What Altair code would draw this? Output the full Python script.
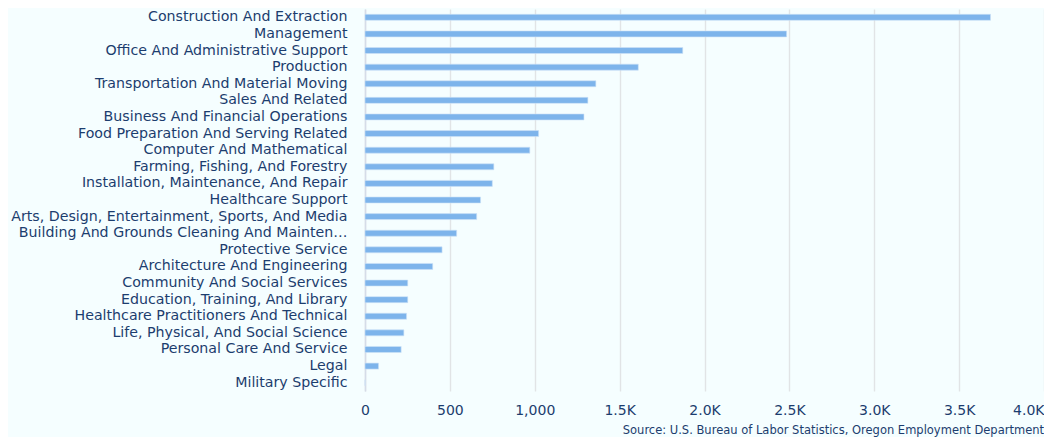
import altair as alt
import pandas as pd

categories = [
    "Construction And Extraction",
    "Management",
    "Office And Administrative Support",
    "Production",
    "Transportation And Material Moving",
    "Sales And Related",
    "Business And Financial Operations",
    "Food Preparation And Serving Related",
    "Computer And Mathematical",
    "Farming, Fishing, And Forestry",
    "Installation, Maintenance, And Repair",
    "Healthcare Support",
    "Arts, Design, Entertainment, Sports, And Media",
    "Building And Grounds Cleaning And Maintenance",
    "Protective Service",
    "Architecture And Engineering",
    "Community And Social Services",
    "Education, Training, And Library",
    "Healthcare Practitioners And Technical",
    "Life, Physical, And Social Science",
    "Personal Care And Service",
    "Legal",
    "Military Specific",
]
values = [3685, 2484, 1872, 1610, 1360, 1313, 1290, 1023, 971, 759, 750, 681,
          658, 540, 454, 399, 252, 252, 245, 229, 213, 80, 0]
x_ticks = [0, 500, 1000, 1500, 2000, 2500, 3000, 3500, 4000]
source_text = "Source: U.S. Bureau of Labor Statistics, Oregon Employment Department"

df = pd.DataFrame({"occupation": categories, "jobs": values})

TEXT = "#1C3D6E"
FONT = "DejaVu Sans"

y_label_expr = ("indexof(datum.label, 'Cleaning And Maintenance') > 0 "
                "? substring(datum.label, 0, 41) + '…' : datum.label")

chart = alt.Chart(df).mark_bar(
    size=6, color="#7DB4EB", stroke="#CFE2F7", strokeWidth=0.6
).encode(
    y=alt.Y("occupation:N", sort=categories, title=None,
            axis=alt.Axis(ticks=False, domain=True, domainColor="#D5DCE8",
                          domainWidth=1.5, grid=False,
                          labelFontSize=14.2, labelColor=TEXT, labelFont=FONT,
                          labelPadding=18, labelLimit=360,
                          labelExpr=y_label_expr,
                          minExtent=357, maxExtent=357)),
    x=alt.X("jobs:Q", title=None,
            scale=alt.Scale(domain=[0, 4000], nice=False),
            axis=alt.Axis(values=x_ticks, domain=False, ticks=False,
                          grid=True, gridColor="#E1E4E6", gridWidth=1.4,
                          labelFontSize=14, labelColor=TEXT, labelFont=FONT,
                          labelPadding=12,
                          labelAlign={"condition": {"test": "datum.value == 4000", "value": "right"}, "value": "center"},
                          labelExpr="datum.value < 1500 ? format(datum.value, ',') : format(datum.value / 1000, '.1f') + 'K'")),
).properties(
    width=679,
    height=382,
    padding={"left": 0, "top": 1, "right": 0, "bottom": 0},
    title=alt.TitleParams(source_text, orient="bottom", anchor="end",
                          fontSize=11.5, font=FONT, color=TEXT,
                          fontWeight="normal", offset=8),
).configure(
    background="#F5FEFF",
).configure_view(
    stroke=None,
)

chart.save("out.html", embed_options={"renderer": "svg", "actions": False})
